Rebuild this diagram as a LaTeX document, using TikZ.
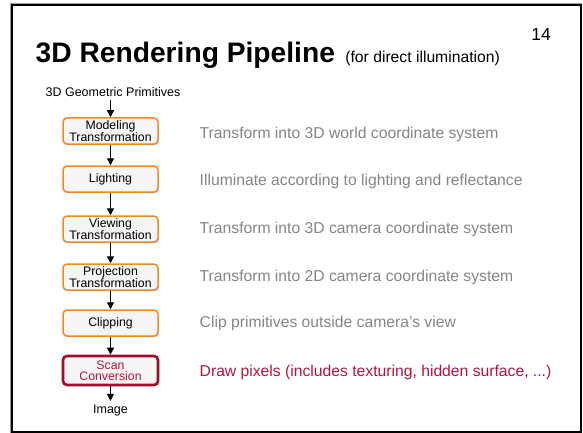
\documentclass[tikz,border=0pt]{standalone}
\usepackage{fontspec}
\setmainfont{Liberation Sans}
\usetikzlibrary{arrows.meta,shadows}
\definecolor{stageedge}{HTML}{F08A24}
\definecolor{stagefill}{HTML}{F5F5F5}
\definecolor{scanedge}{HTML}{A00C2C}
\definecolor{scantext}{HTML}{B4143C}
\definecolor{notegray}{HTML}{858585}
\tikzset{
  stagebox/.style={draw=stageedge, fill=stagefill, line width=1.5pt,
    rounded corners=4pt, minimum width=95pt, minimum height=26pt,
    inner sep=1pt, align=center, font=\fontsize{12.3}{11}\selectfont,
    drop shadow={shadow xshift=1.2pt, shadow yshift=-1.2pt, fill=black!35, opacity=0.6}},
  scanbox/.style={stagebox, draw=scanedge, line width=2.6pt, minimum height=29pt, text=scantext},
  flow/.style={line width=1.3pt, -{Triangle[width=7pt,length=7pt]}},
  note/.style={anchor=base west, inner sep=0pt, text=notegray, font=\fontsize{15.7}{17}\selectfont},
  ends/.style={font=\fontsize{12.5}{13}\selectfont}
}
\begin{document}
\begin{tikzpicture}[x=1pt, y=-1pt]
\useasboundingbox (0,0) rectangle (583,433);
% slide frame
\draw[black!40, line width=1pt] (10.5,3.5) rectangle (581.5,433.5);
\draw[black, line width=2pt] (12,5) rectangle (580.5,432);
% heading
\node[anchor=base west, inner sep=0pt, font=\bfseries\fontsize{28.2}{28}\selectfont] (title) at (35.5,63)
  {3D Rendering Pipeline};
\node[anchor=base west, inner sep=0pt, font=\fontsize{15.7}{16}\selectfont] (subtitle) at ([xshift=10pt]title.base east)
  {(for direct illumination)};
\node[font=\fontsize{17.5}{17}\selectfont] (pageno) at (541,34.5) {14};
% pipeline stages
\node[ends] (input) at (113,92) {3D Geometric Primitives};
\node[stagebox] (model) at (110.5,131) {Modeling\\Transformation};
\node[stagebox] (light) at (110.5,179) {Lighting};
\node[stagebox] (view) at (110.5,229) {Viewing\\Transformation};
\node[stagebox] (proj) at (110.5,277) {Projection\\Transformation};
\node[stagebox] (clip) at (110.5,323) {Clipping};
\node[scanbox] (scan) at (110.5,370.5) {Scan\\Conversion};
\node[ends] (output) at (110.5,410) {Image};
% connectors
\draw[flow] (input.south -| model.north) -- (model);
\draw[flow] (model) -- (light);
\draw[flow] (light) -- (view);
\draw[flow] (view) -- (proj);
\draw[flow] (proj) -- (clip);
\draw[flow] (clip) -- (scan);
\draw[flow] (scan) -- (output);
% descriptions
\node[note] (d1) at (199.5,138.3) {Transform into 3D world coordinate system};
\node[note] (d2) at (199.5,185.7) {Illuminate according to lighting and reflectance};
\node[note] (d3) at (199.5,233.3) {Transform into 3D camera coordinate system};
\node[note] (d4) at (199.5,281.7) {Transform into 2D camera coordinate system};
\node[note] (d5) at (199.5,327.7) {Clip primitives outside camera’s view};
\node[note, text=scantext] (d6) at (199.5,376.7) {Draw pixels (includes texturing, hidden surface, ...)};
\end{tikzpicture}
\end{document}
